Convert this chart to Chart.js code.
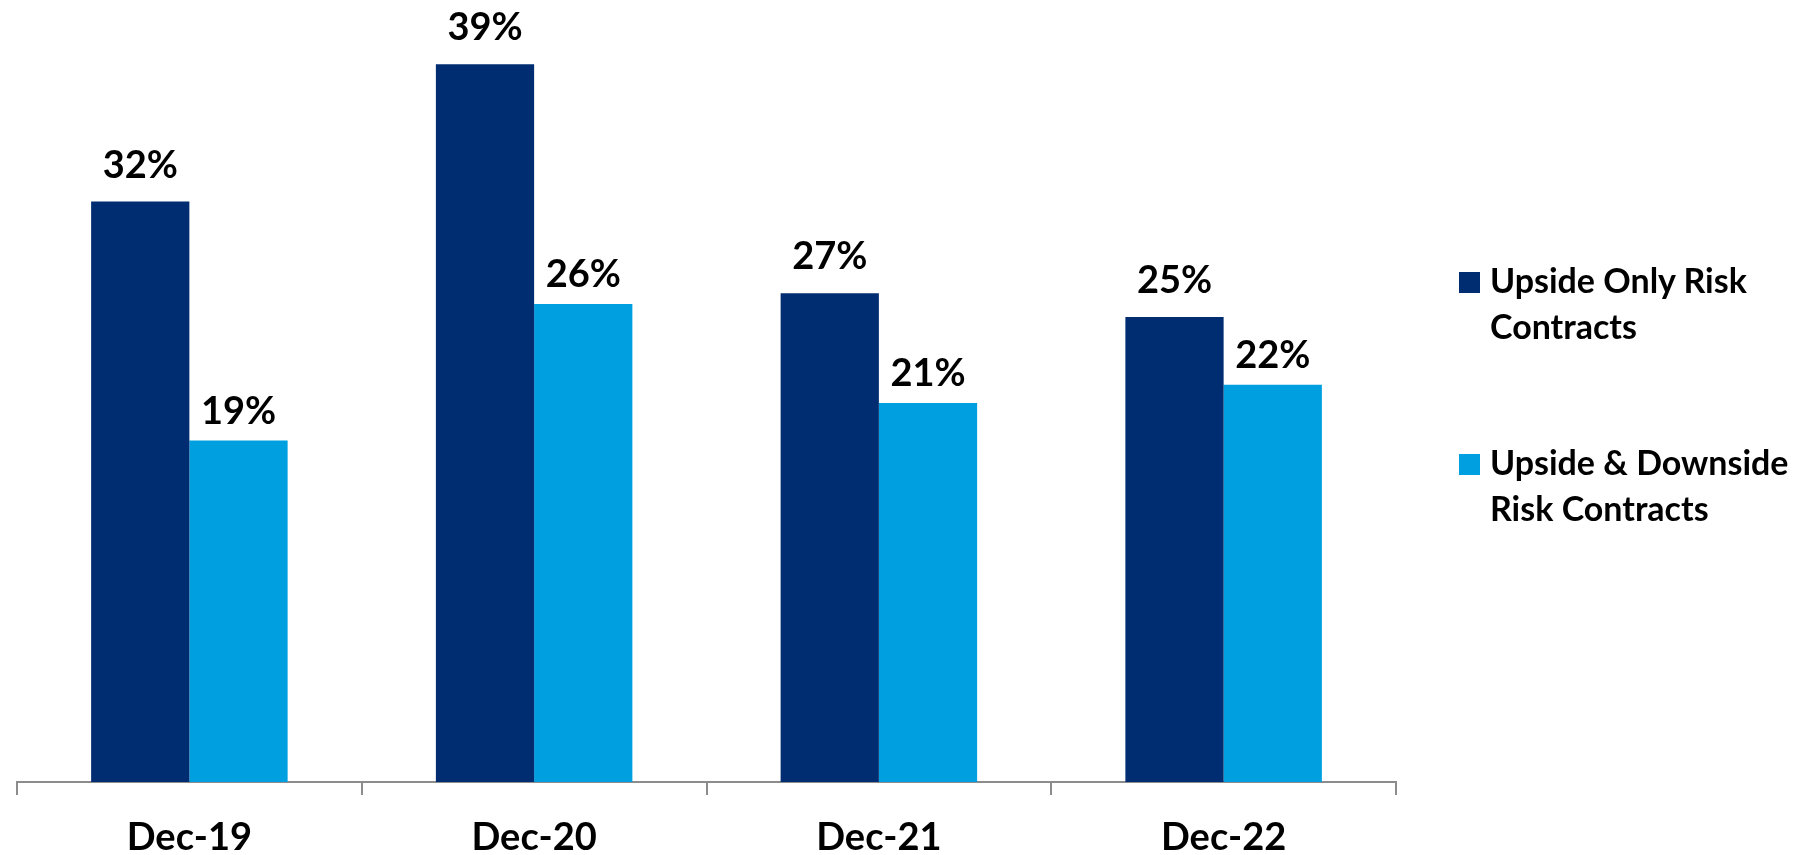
<!DOCTYPE html>
<html><head><meta charset="utf-8">
<script src="https://cdn.jsdelivr.net/npm/chart.js@4.4.1/dist/chart.umd.min.js"></script>
<style>
html,body{margin:0;padding:0;background:#fff;overflow:hidden;}
#wrap{position:relative;width:1801px;height:855px;}
#legend{position:absolute;left:1459px;top:0;font-family:Lato,sans-serif;font-weight:bold;font-size:34px;line-height:45.5px;color:#000;}
.item{position:absolute;left:0;width:342px;}
.sw{position:absolute;left:0;top:15px;width:21px;height:21px;}
.txt{position:absolute;left:31px;top:0;white-space:nowrap;}
</style></head>
<body><div id="wrap"><canvas id="c" width="1801" height="855"></canvas><div id="legend"></div></div>
<script>
const categories = ['Dec-19', 'Dec-20', 'Dec-21', 'Dec-22'];
const upsideOnly = [31.7, 39.2, 26.7, 25.4];
const upsideDownside = [18.65, 26.1, 20.7, 21.7];
const seriesNames = [['Upside Only Risk', 'Contracts'], ['Upside & Downside', 'Risk Contracts']];

const colors = ['#002D72', '#009FDF'];
const labelGaps = [24, 17];
const legendTops = [257, 439];

const labelPlugin = {
  id: 'barLabels',
  afterDatasetsDraw(chart) {
    const ctx = chart.ctx;
    ctx.save();
    ctx.font = 'bold 38px Lato';
    ctx.fillStyle = '#000';
    ctx.textAlign = 'center';
    ctx.textBaseline = 'alphabetic';
    chart.data.datasets.forEach((ds, i) => {
      const meta = chart.getDatasetMeta(i);
      meta.data.forEach((bar, j) => {
        ctx.fillText(Math.round(ds.data[j]) + '%', bar.x, bar.y - labelGaps[i]);
      });
    });
    ctx.restore();
  }
};

function buildLegend() {
  const lg = document.getElementById('legend');
  seriesNames.forEach((lines, i) => {
    const it = document.createElement('div');
    it.className = 'item';
    it.style.top = legendTops[i] + 'px';
    const sw = document.createElement('div');
    sw.className = 'sw';
    sw.style.background = colors[i];
    const tx = document.createElement('div');
    tx.className = 'txt';
    tx.innerHTML = lines.map(l => l.replace(/&/g, '&amp;')).join('<br>');
    it.appendChild(sw);
    it.appendChild(tx);
    lg.appendChild(it);
  });
}

function draw() {
  Chart.defaults.font.family = 'Lato';
  new Chart(document.getElementById('c'), {
    type: 'bar',
    data: {
      labels: categories,
      datasets: [
        { label: seriesNames[0].join(' '), data: upsideOnly, backgroundColor: colors[0], categoryPercentage: 0.57, barPercentage: 1.0 },
        { label: seriesNames[1].join(' '), data: upsideDownside, backgroundColor: colors[1], categoryPercentage: 0.57, barPercentage: 1.0 }
      ]
    },
    options: {
      responsive: false,
      animation: false,
      devicePixelRatio: 1,
      layout: { padding: { left: 17, right: 405, top: 13, bottom: 0 } },
      plugins: { legend: { display: false }, tooltip: { enabled: false } },
      scales: {
        x: {
          offset: true,
          grid: { display: true, offset: true, drawOnChartArea: false, drawTicks: true, tickLength: 13, color: '#8C8C8C', lineWidth: 2 },
          border: { display: true, color: '#8C8C8C', width: 2 },
          ticks: { color: '#000', font: { family: 'Lato', size: 38, weight: 'bold' }, padding: 20, maxRotation: 0 },
          afterFit(s) { s.height = 73; }
        },
        y: { display: false, min: 0, max: 42 }
      }
    },
    plugins: [labelPlugin]
  });
}

buildLegend();
if (document.fonts && document.fonts.load) {
  document.fonts.load('bold 38px Lato').then(draw, draw);
} else { draw(); }
</script>
</body></html>
